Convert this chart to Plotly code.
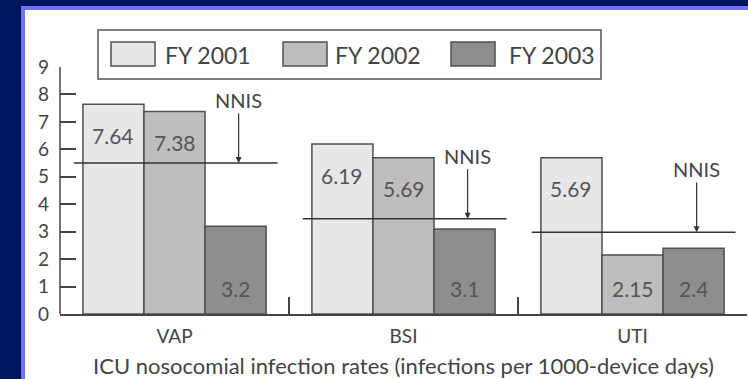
import plotly.graph_objects as go

categories = ["VAP", "BSI", "UTI"]
series_names = ["FY 2001", "FY 2002", "FY 2003"]
fy2001 = [7.64, 6.19, 5.69]
fy2002 = [7.38, 5.69, 2.15]
fy2003 = [3.2, 3.1, 2.4]
nnis = [5.5, 3.47, 2.98]
y_ticks = [0, 1, 2, 3, 4, 5, 6, 7, 8, 9]

values = [fy2001, fy2002, fy2003]
colors = ["#e7e7e9", "#bebebe", "#8e8e8e"]
outline = "#505050"
textc = "#444444"
FONT = "Lato"

# plot area in pixels
L, R, T, B = 60, 1, 67, 65
W, H = 748, 379
PW, PH = W - L - R, H - T - B

def px(x):
    return (x - L) / PW

def py(y):
    return (H - B - y) / PH

fig = go.Figure()
for name, vals, col in zip(series_names, values, colors):
    fig.add_trace(go.Bar(x=categories, y=vals, name=name, marker_color=col,
                         marker_line_color=outline, marker_line_width=1.5,
                         showlegend=False))

bargap = 0.2
bw = (1 - bargap) / len(values)
annotations = []
for s, vals in enumerate(values):
    off = (s - (len(values) - 1) / 2) * bw
    for i, v in enumerate(vals):
        if v > 4:
            y, ys = v, -31
        else:
            y, ys = 0, 26
        annotations.append(dict(x=i + off, y=y, yshift=ys, text=f"{v:g}",
                                showarrow=False, xref="x", yref="y",
                                font=dict(family=FONT, size=21, color="#555555")))

shapes = []
# white framed panel
shapes.append(dict(type="rect", xref="paper", yref="paper", layer="below",
                   x0=px(23), x1=px(800), y0=py(8), y1=py(420),
                   fillcolor="white", line=dict(color="#7272ff", width=4)))
# y axis line from 0 to 9
shapes.append(dict(type="line", xref="paper", yref="y", x0=0, x1=0,
                   y0=0, y1=max(y_ticks), line=dict(color=textc, width=1.5)))
# NNIS lines and arrows
for i, n in enumerate(nnis):
    shapes.append(dict(type="line", xref="x", yref="y", x0=i - 0.44, x1=i + 0.45,
                       y0=n, y1=n, line=dict(color="#333333", width=1.5)))
    annotations.append(dict(x=i + 0.28, y=n, ax=i + 0.28, ay=n + 2.3,
                            xref="x", yref="y", axref="x", ayref="y",
                            text="NNIS", showarrow=True, arrowhead=2,
                            arrowsize=1, arrowwidth=1.2, arrowcolor="#333333",
                            font=dict(family=FONT, size=20, color=textc)))

# manual legend
shapes.append(dict(type="rect", xref="paper", yref="paper",
                   x0=px(98), x1=px(601), y0=py(30), y1=py(79),
                   line=dict(color="#555555", width=1.5), fillcolor="white"))
sw_x = [111, 283, 451]
tx_x = [163, 333, 507]
for name, col, sx, tx in zip(series_names, colors, sw_x, tx_x):
    shapes.append(dict(type="rect", xref="paper", yref="paper",
                       x0=px(sx), x1=px(sx + 44), y0=py(42), y1=py(66),
                       line=dict(color=outline, width=1.5), fillcolor=col))
    annotations.append(dict(x=px(tx), y=py(55), xref="paper", yref="paper",
                            xanchor="left", yanchor="middle", text=name,
                            showarrow=False,
                            font=dict(family=FONT, size=23, color=textc)))

fig.update_layout(
    width=W, height=H,
    margin=dict(l=L, r=R, t=T, b=B),
    paper_bgcolor="#00155f",
    plot_bgcolor="rgba(0,0,0,0)",
    barmode="group", bargap=bargap, bargroupgap=0,
    shapes=shapes, annotations=annotations,
    font=dict(family=FONT, color=textc),
)
fig.update_xaxes(type="category", range=[-0.5, 2.5], showline=True,
                 linecolor=textc, linewidth=1.5, ticks="inside",
                 tickson="boundaries", ticklen=17, tickwidth=1.5,
                 tickcolor=textc, showgrid=False, zeroline=False,
                 ticklabelstandoff=4,
                 tickfont=dict(family=FONT, size=19, color=textc),
                 title=dict(text="ICU nosocomial infection rates (infections per 1000-device days)",
                            font=dict(family=FONT, size=22, color=textc), standoff=16))
fig.update_yaxes(range=[0, 9], tickvals=y_ticks, ticks="inside", ticklen=16,
                 tickwidth=1.5, tickcolor=textc, showline=False, showgrid=False,
                 zeroline=False, ticklabelstandoff=10,
                 tickfont=dict(family=FONT, size=19, color=textc))

fig.write_html("out.html")
